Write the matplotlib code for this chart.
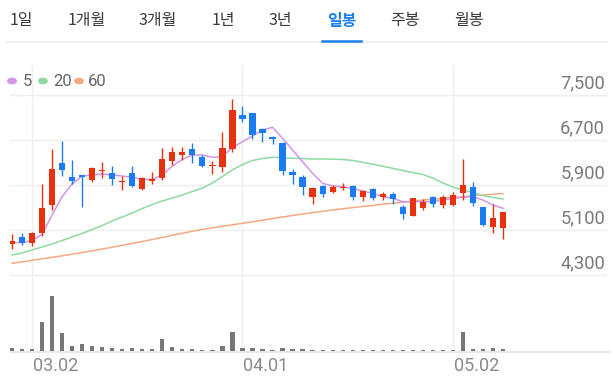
import matplotlib
matplotlib.use("Agg")
import matplotlib.pyplot as plt
import matplotlib.transforms as mtransforms
from matplotlib.lines import Line2D
import numpy as np

# ---------------- data ----------------
opens = [4851, 4981, 4863, 5041, 5544, 6297, 6037, 6065, 5989, 6144,
         6119, 5953, 6108, 5823, 5976, 6019, 6332, 6433, 6540, 6392,
         6238, 6226, 6535, 7139, 7175, 6890, 6759, 6652, 6137, 6037,
         5681, 5882, 5781, 5841, 5882, 5681, 5834, 5681, 5740, 5503,
         5349, 5486, 5681, 5544, 5544, 5752, 5870, 5503, 5148, 5130]
highs = [5029, 5052, 5070, 5918, 6535, 6688, 6344, 6078, 6226, 6303,
         6238, 6060, 6238, 6037, 6137, 6552, 6570, 6581, 6641, 6433,
         6332, 6848, 7424, 7310, 7175, 6908, 6771, 6670, 6179, 6078,
         5870, 5895, 5900, 5941, 5895, 5811, 5852, 5776, 5776, 5544,
         5663, 5646, 5704, 5717, 5781, 6357, 5959, 5515, 5562, 5426]
lows = [4762, 4833, 4816, 4999, 5456, 6065, 5918, 5503, 5959, 6019,
        5900, 5811, 5859, 5811, 5918, 5989, 6255, 6344, 6297, 6215,
        6096, 6137, 6492, 7025, 6712, 6670, 6629, 6078, 5918, 5722,
        5562, 5692, 5763, 5811, 5633, 5621, 5633, 5633, 5562, 5290,
        5349, 5456, 5515, 5486, 5527, 5633, 5527, 5171, 5041, 4935]
closes = [4904, 4863, 5052, 5486, 6184, 6167, 5976, 6048, 6197, 6167,
          6001, 5976, 5882, 6019, 6001, 6357, 6481, 6487, 6433, 6238,
          6261, 6552, 7233, 7068, 6789, 6830, 6712, 6155, 6078, 5859,
          5852, 5740, 5870, 5870, 5681, 5793, 5663, 5740, 5646, 5384,
          5663, 5604, 5562, 5692, 5722, 5900, 5585, 5189, 5308, 5415]
volumes = [100, 50, 50, 880, 1660, 530, 150, 210, 150, 130,
           80, 60, 80, 50, 60, 350, 130, 60, 60, 40,
           40, 150, 560, 80, 80, 50, 30, 100, 60, 60,
           40, 40, 30, 20, 20, 20, 20, 20, 20, 40,
           30, 20, 20, 20, 20, 580, 60, 50, 80, 50]
ma5 = [4874, 4878, 4910, 5024, 5367, 5692, 5918, 6060, 6078, 6096,
       6078, 6060, 6037, 6001, 6001, 6078, 6238, 6357, 6433, 6433,
       6392, 6403, 6570, 6670, 6771, 6878, 6926, 6730, 6522, 6314,
       6108, 5930, 5882, 5870, 5841, 5793, 5752, 5692, 5663, 5603,
       5603, 5603, 5603, 5633, 5663, 5681, 5692, 5633, 5544, 5486]
ma20 = [4656, 4691, 4744, 4798, 4851, 4913, 4976, 5038, 5109, 5180,
        5260, 5331, 5402, 5482, 5553, 5616, 5669, 5722, 5784, 5847,
        5936, 6051, 6167, 6264, 6336, 6371, 6392, 6389, 6375, 6371,
        6362, 6362, 6359, 6353, 6336, 6304, 6268, 6233, 6197, 6158,
        6122, 6087, 6024, 5936, 5864, 5811, 5767, 5713, 5678, 5651]
ma60 = [4508, 4534, 4561, 4588, 4614, 4641, 4670, 4700, 4730, 4762,
        4794, 4828, 4862, 4895, 4931, 4968, 5006, 5043, 5079, 5111,
        5139, 5166, 5192, 5219, 5246, 5274, 5303, 5331, 5358, 5384,
        5409, 5432, 5455, 5477, 5498, 5518, 5537, 5557, 5576, 5596,
        5614, 5631, 5647, 5663, 5678, 5692, 5708, 5722, 5735, 5747]
price_ticks = [4300, 5100, 5900, 6700, 7500]
xtick_idx = [2, 23, 44]
xtick_labels = ["03.02", "04.01", "05.02"]
tabs = ["1일", "1개월", "3개월", "1년", "3년", "일봉", "주봉", "월봉"]
selected_tab = "일봉"
ma_labels = ["5", "20", "60"]

# ---------------- style ----------------
RED = "#e8320f"
BLUE = "#1b7cf2"
C5 = "#d394ea"
C20 = "#8fd9a2"
C60 = "#f6a982"
GRID = "#efefef"
W, H = 613, 383

fig = plt.figure(figsize=(W / 100, H / 100), dpi=100)
fig.patch.set_facecolor("white")

def fx(px):
    return px / W

def fy(py):
    return 1 - py / H

# price axes: x 10..607 px, y 65..351 px
left_px, right_px = 10, 607
top_px, bot_px = 65, 351
ax = fig.add_axes([fx(left_px), fy(bot_px), fx(right_px - left_px), (bot_px - top_px) / H])
ax.set_facecolor("none")
step = 10.02
x0 = 12
ax.set_xlim((left_px - x0) / step, (right_px - x0) / step)
ppx = 800 / 45.0
ax.set_ylim(4300 - (bot_px - 275) * ppx, 7500 + (95 - top_px) * ppx)
for s in ax.spines.values():
    s.set_visible(False)
ax.set_xticks([])
ax.set_yticks([])

n = len(opens)
xs = np.arange(n)

# grid
for p in price_ticks:
    ax.axhline(p, color=GRID, lw=1.0, zorder=0)
for i in xtick_idx:
    ax.axvline(i, color=GRID, lw=1.0, zorder=0)

# moving averages
ax.plot(xs, ma60, color=C60, lw=1.1, zorder=2)
ax.plot(xs, ma20, color=C20, lw=1.1, zorder=2)
ax.plot(xs, ma5, color=C5, lw=1.1, zorder=2)

# candles
cols = [RED if c >= o else BLUE for o, c in zip(opens, closes)]
ax.vlines(xs, lows, highs, colors=cols, lw=1.0, zorder=3)
bottoms = [min(o, c) for o, c in zip(opens, closes)]
heights = [max(abs(c - o), 22) for o, c in zip(opens, closes)]
ax.bar(xs, heights, bottom=bottoms, width=0.62, color=cols, zorder=4, linewidth=0)

# price labels (right side, above gridline)
lab_tr = mtransforms.offset_copy(ax.get_yaxis_transform(), fig=fig, x=-2, y=12, units="dots")
for p in price_ticks:
    ax.text(1.0, p, f"{p:,}", transform=lab_tr, ha="right", va="center",
            fontsize=13.2, color="#7a7a7a", family="Roboto")

# x labels
for i, lab in zip(xtick_idx, xtick_labels):
    ax.text(i, 0, lab, transform=mtransforms.offset_copy(ax.get_xaxis_transform(), fig=fig, x=1, y=-15, units="dots"),
            ha="left", va="center", fontsize=13, color="#8a8a8a", family="Roboto")

# volume axes
vax = fig.add_axes([fx(left_px), fy(bot_px), fx(right_px - left_px), 60 / H])
vax.set_facecolor("none")
vax.set_xlim(ax.get_xlim())
vax.set_ylim(0, max(volumes) * 60 / 55.3)
for s in vax.spines.values():
    s.set_visible(False)
vax.set_xticks([])
vax.set_yticks([])
vax.bar(xs, volumes, width=0.42, color="#777777", linewidth=0, zorder=3)
fig.add_artist(Line2D([fx(10), fx(610)], [fy(351.5), fy(351.5)], color="#e4e4e4", lw=1.2))

# legend
leg_y = fy(81)
for cx, tx, col, lab in zip([12, 43, 79], [23, 53, 88], [C5, C20, C60], ma_labels):
    fig.patches.append(plt.Circle((fx(cx), leg_y), 4.2 / W, color=col, transform=fig.transFigure,
                                  figure=fig))
    fig.text(fx(tx), leg_y, lab, ha="left", va="center", fontsize=12, color="#666666", family="Roboto")

# tabs
tab_cx = [21.5, 86.5, 158, 223.5, 280.5, 341.5, 404.5, 469]
for cx, t in zip(tab_cx, tabs):
    sel = t == selected_tab
    fig.text(fx(cx), fy(21), t, ha="center", va="center", fontsize=11.5,
             color="#1a7ff0" if sel else "#3a3a3a", fontweight="bold" if sel else "normal",
             family=["Noto Sans CJK KR", "DejaVu Sans"])
fig.add_artist(Line2D([fx(6), fx(607)], [fy(42), fy(42)], color="#eeeeee", lw=1.2))
fig.add_artist(Line2D([fx(322), fx(361)], [fy(41), fy(41)], color="#1a7ff0", lw=1.8))

fig.savefig("out.png", dpi=100, facecolor="white")
